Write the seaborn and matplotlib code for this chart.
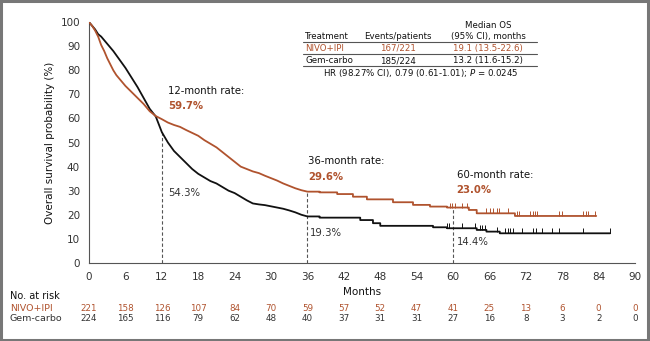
import matplotlib
matplotlib.use("Agg")
import matplotlib.pyplot as plt
import seaborn as sns
import pandas as pd
from matplotlib.patches import Rectangle

# ---------------- data (curve corner points) ----------------
nivo_t = [0, 0.5, 1, 1.5, 2, 2.5, 3, 3.5, 4, 4.5, 5, 5.5, 6, 7, 8, 9, 10, 11, 12, 13, 14,
          15, 16, 17, 18, 19, 20, 21, 22, 23, 24, 25, 26, 27, 28, 29, 30, 31, 32, 33, 34,
          35, 36, 38, 38, 40.9, 40.9, 43.5, 43.5, 45.8, 45.8, 50.1, 50.1, 53.4, 53.4,
          56.2, 56.2, 59, 59, 62.6, 62.6, 63.9, 63.9, 70.2, 70.2, 83.6]
nivo_s = [100, 98.5, 96.5, 94, 90.5, 88, 85, 82.5, 80, 78, 76.5, 75, 73.5, 71, 68.5, 66,
          63, 61, 59.7, 58.3, 57.3, 56.5, 55.2, 54, 52.8, 51, 49.5, 48, 46, 44, 42, 40,
          39, 38, 37.3, 36.2, 35.2, 34.2, 33, 32, 31, 30.2, 29.6, 29.6, 29.3, 29.3, 28.6,
          28.6, 27.5, 27.5, 26.4, 26.4, 25.2, 25.2, 24.1, 24.1, 23.4, 23.4, 23.0, 23.0,
          22.0, 22.0, 20.6, 20.6, 19.5, 19.5]

gem_t = [0, 0.5, 1, 1.5, 2, 3, 4, 5, 6, 7, 8, 9, 10, 11, 12, 13, 14, 15, 16, 17, 18, 19,
         20, 21, 22, 23, 24, 25, 26, 27, 28, 29, 30, 31, 32, 33, 34, 35, 36, 38, 38, 44.7,
         44.7, 46.8, 46.8, 48, 48, 56.7, 56.7, 59, 59, 63.9, 63.9, 65.5, 65.5, 67.7, 67.7,
         85.9]
gem_s = [100, 98.5, 97, 95, 94, 91, 88, 84.5, 81, 77, 73, 68.5, 64, 60.8, 54.3, 50, 46.5,
         44, 41.5, 39, 37, 35.5, 34, 33, 31.5, 30, 29, 27.5, 26, 24.7, 24.3, 24, 23.5, 23,
         22.5, 21.8, 21, 20, 19.3, 19.3, 18.8, 18.8, 17.8, 17.8, 16.5, 16.5, 15.4, 15.4,
         14.8, 14.8, 14.4, 14.4, 13.7, 13.7, 13.0, 13.0, 12.3, 12.3]

nivo_cens = [59.5, 59.9, 60.3, 61.4, 62.3, 65.5, 66.1, 66.6, 67.2, 67.6, 69.1, 70.5, 70.9,
             72.7, 73.1, 73.5, 73.9, 77.4, 77.9, 81.5, 81.9, 82.3, 83.4]
gem_cens = [59.0, 59.3, 61.4, 63.6, 64.4, 64.8, 65.3, 67.2, 68.6, 69.0, 69.4, 69.8, 71.3,
            73.2, 73.7, 74.6, 76.3, 77.5, 81.5, 85.9]

landmark_months = [12, 36, 60]
nivo_rates = [59.7, 29.6, 23.0]
gem_rates = [54.3, 19.3, 14.4]

risk_months = [0, 6, 12, 18, 24, 30, 36, 42, 48, 54, 60, 66, 72, 78, 84, 90]
nivo_risk = [221, 158, 126, 107, 84, 70, 59, 57, 52, 47, 41, 25, 13, 6, 0, 0]
gem_risk = [224, 165, 116, 79, 62, 48, 40, 37, 31, 31, 27, 16, 8, 3, 2, 0]

ORANGE = "#B0532E"
BLACK = "#111111"
GREY = "#333333"

sns.set_style("white")
plt.rcParams["font.family"] = ["DejaVu Sans"]

fig = plt.figure(figsize=(6.5, 3.41), dpi=100)
ax = fig.add_axes([0.137, 0.229, 0.840, 0.706])

df_n = pd.DataFrame({"t": nivo_t, "s": nivo_s})
df_g = pd.DataFrame({"t": gem_t, "s": gem_s})
sns.lineplot(data=df_g, x="t", y="s", ax=ax, color=BLACK, lw=1.3,
             estimator=None, sort=False, zorder=3)
sns.lineplot(data=df_n, x="t", y="s", ax=ax, color=ORANGE, lw=1.3,
             estimator=None, sort=False, zorder=3)


def step_val(ts, ss, x):
    v = ss[0]
    for t, s in zip(ts, ss):
        if t <= x:
            v = s
    return v


cn = pd.DataFrame({"t": nivo_cens, "s": [step_val(nivo_t, nivo_s, x) for x in nivo_cens]})
cg = pd.DataFrame({"t": gem_cens, "s": [step_val(gem_t, gem_s, x) for x in gem_cens]})
sns.scatterplot(data=cn, x="t", y="s", ax=ax, marker=2, s=14, color=ORANGE, linewidth=0.7, zorder=4)
sns.scatterplot(data=cg, x="t", y="s", ax=ax, marker=2, s=14, color=BLACK, linewidth=0.7, zorder=4)

# landmark dashed lines
tops = [gem_rates[0], nivo_rates[1], nivo_rates[2]]
for m, top in zip(landmark_months, tops):
    ax.plot([m, m], [0, top], ls=(0, (3, 2)), color="#555555", lw=0.8, zorder=1)

fs = 7.3
ax.text(13.0, 71.5, "12-month rate:", fontsize=fs, color=BLACK, va="center")
ax.text(13.0, 65.1, f"{nivo_rates[0]:.1f}%", fontsize=fs, color=ORANGE, va="center", fontweight="bold")
ax.text(13.0, 29.2, f"{gem_rates[0]:.1f}%", fontsize=fs, color=GREY, va="center")
ax.text(36.1, 42.3, "36-month rate:", fontsize=fs, color=BLACK, va="center")
ax.text(36.1, 35.7, f"{nivo_rates[1]:.1f}%", fontsize=fs, color=ORANGE, va="center", fontweight="bold")
ax.text(36.4, 12.3, f"{gem_rates[1]:.1f}%", fontsize=fs, color=GREY, va="center")
ax.text(60.6, 36.5, "60-month rate:", fontsize=fs, color=BLACK, va="center")
ax.text(60.6, 30.3, f"{nivo_rates[2]:.1f}%", fontsize=fs, color=ORANGE, va="center", fontweight="bold")
ax.text(60.6, 8.8, f"{gem_rates[2]:.1f}%", fontsize=fs, color=GREY, va="center")

ax.set_xlim(0, 90)
ax.set_ylim(0, 100)
ax.set_xticks(list(range(0, 91, 6)))
ax.set_yticks(list(range(0, 101, 10)))
ax.tick_params(axis="both", labelsize=7.5, colors="#333333", direction="out", length=3, width=0.8)
for sp in ["top", "right"]:
    ax.spines[sp].set_visible(False)
for sp in ["left", "bottom"]:
    ax.spines[sp].set_color("#555555")
    ax.spines[sp].set_linewidth(0.8)
ax.set_xlabel("Months", fontsize=7.5, color=BLACK, labelpad=4)
ax.set_ylabel("Overall survival probability (%)", fontsize=7.5, color=BLACK, labelpad=4)

# table (figure pixel coords -> fraction)
W, H = 650.0, 341.0
def fx(px): return px / W
def fy(py): return 1 - py / H

tfs = 6.2
fig.text(fx(488), fy(25), "Median OS", fontsize=tfs, ha="center", va="center", color=BLACK)
fig.text(fx(305), fy(36.7), "Treatment", fontsize=tfs, ha="left", va="center", color=BLACK)
fig.text(fx(398), fy(36.7), "Events/patients", fontsize=tfs, ha="center", va="center", color=BLACK)
fig.text(fx(488), fy(36.7), "(95% CI), months", fontsize=tfs, ha="center", va="center", color=BLACK)
fig.text(fx(305), fy(48.3), "NIVO+IPI", fontsize=tfs, ha="left", va="center", color=ORANGE)
fig.text(fx(398), fy(48.3), "167/221", fontsize=tfs, ha="center", va="center", color=ORANGE)
fig.text(fx(488), fy(48.3), "19.1 (13.5-22.6)", fontsize=tfs, ha="center", va="center", color=ORANGE)
fig.text(fx(305), fy(60.7), "Gem-carbo", fontsize=tfs, ha="left", va="center", color=BLACK)
fig.text(fx(398), fy(60.7), "185/224", fontsize=tfs, ha="center", va="center", color=BLACK)
fig.text(fx(488), fy(60.7), "13.2 (11.6-15.2)", fontsize=tfs, ha="center", va="center", color=BLACK)
fig.text(fx(421), fy(72.7), "HR (98.27% CI), 0.79 (0.61-1.01); $\\it{P}$ = 0.0245", fontsize=tfs,
         ha="center", va="center", color=BLACK)
for ly in [41.7, 54.3, 66.0]:
    fig.add_artist(plt.Line2D([fx(303), fx(537)], [fy(ly), fy(ly)], color="#555555", lw=0.8))

# risk table
fig.text(fx(10), fy(296), "No. at risk", fontsize=7, ha="left", va="center", color=BLACK)
fig.text(fx(10), fy(308.3), "NIVO+IPI", fontsize=6.8, ha="left", va="center", color=ORANGE)
fig.text(fx(10), fy(318.3), "Gem-carbo", fontsize=6.8, ha="left", va="center", color=GREY)
for m, n, g in zip(risk_months, nivo_risk, gem_risk):
    x_fig = fig.transFigure.inverted().transform(ax.transData.transform((m, 0)))[0]
    fig.text(x_fig, fy(308.3), str(n), fontsize=6.3, ha="center", va="center", color=ORANGE)
    fig.text(x_fig, fy(318.3), str(g), fontsize=6.3, ha="center", va="center", color=GREY)

# border
fig.add_artist(Rectangle((0.002, 0.003), 0.995, 0.993, transform=fig.transFigure,
                         fill=False, edgecolor="#777777", lw=2.2))

fig.savefig("out.png", dpi=100)
